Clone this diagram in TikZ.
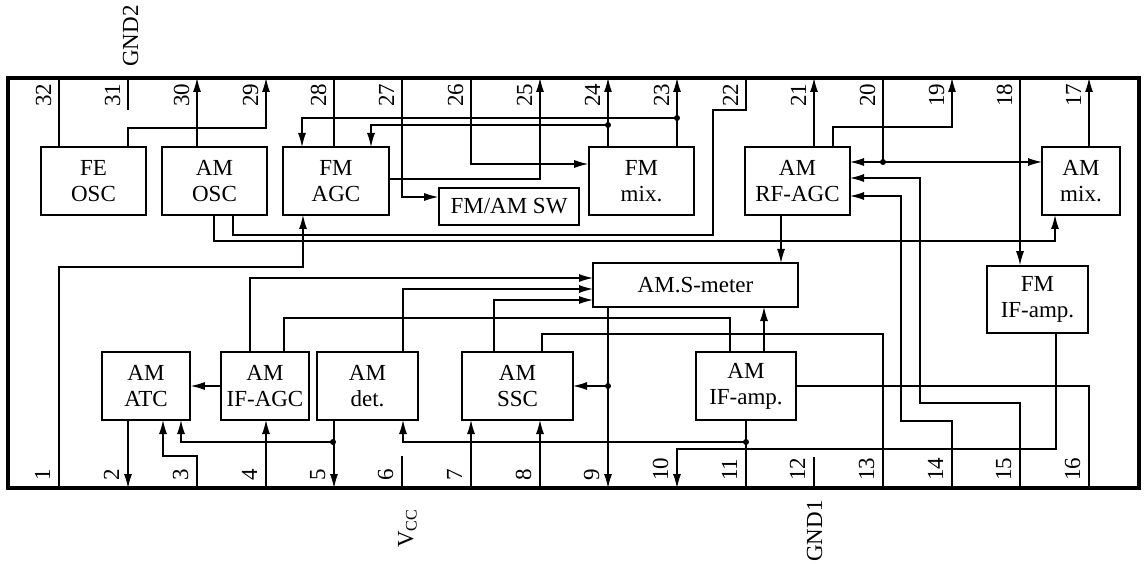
\documentclass[tikz,border=0pt]{standalone}
\usepackage{fontspec}
\setmainfont{Liberation Serif}
\usetikzlibrary{arrows.meta}
\begin{document}
\begin{tikzpicture}[x=1pt,y=-1pt,
  blk/.style={draw,line width=1.6pt,inner sep=0pt,align=center,font=\fontsize{23}{26}\selectfont},
  conn/.style={line width=1.1pt},
  arr/.style={conn,-{Latex[length=14pt,width=8pt]}},
  pinlab/.style={rotate=90,anchor=base west,inner sep=0pt,font=\fontsize{23}{26}\selectfont},
  jdot/.style={fill}]
\useasboundingbox (0,0) rectangle (1146,564);
% pins
\foreach \n/\x in {32/59,31/128,30/197,29/266,28/334,27/402,26/471,25/540,24/608,23/677,22/746,21/814,20/883,19/952,18/1020,17/1089}{
  \coordinate (t\n) at (\x,78);
  \node[pinlab] (lt\n) at (\x-8,107) {\n};
}
\foreach \n/\x in {1/59,2/128,3/197,4/266,5/334,6/402,7/471,8/540,9/608,10/677,11/746,12/814,13/883,14/952,15/1020,16/1089}{
  \coordinate (b\n) at (\x,488);
  \node[pinlab] (lb\n) at (\x-9,481) {\n};
}
% blocks
\node[blk,minimum width=105pt,minimum height=68pt] (fe) at (93.5,181) {FE\\OSC};
\node[blk,minimum width=105pt,minimum height=68pt] (amosc) at (214.5,181) {AM\\OSC};
\node[blk,minimum width=106pt,minimum height=68pt] (fmagc) at (336,181) {FM\\AGC};
\node[blk,minimum width=140pt,minimum height=37pt] (sw) at (509,206.5) {FM/AM SW};
\node[blk,minimum width=105pt,minimum height=68pt] (fmmix) at (641.5,181) {FM\\mix.};
\node[blk,minimum width=105pt,minimum height=68pt] (rfagc) at (797.5,181) {AM\\RF-AGC};
\node[blk,minimum width=78pt,minimum height=68pt] (ammix) at (1081,181) {AM\\mix.};
\node[blk,minimum width=205pt,minimum height=44pt] (smeter) at (695.5,285) {AM.S-meter};
\node[blk,minimum width=101pt,minimum height=67pt] (fmif) at (1037.5,299.5) {FM\\IF-amp.};
\node[blk,minimum width=88pt,minimum height=68pt] (atc) at (146,386) {AM\\ATC};
\node[blk,minimum width=88pt,minimum height=68pt] (ifagc) at (265,386) {AM\\IF-AGC};
\node[blk,minimum width=101pt,minimum height=68pt] (det) at (367.5,386) {AM\\det.};
\node[blk,minimum width=111pt,minimum height=68pt] (ssc) at (517.5,386) {AM\\SSC};
\node[blk,minimum width=100pt,minimum height=68pt] (amif) at (746,386) {AM\\IF-amp.};
% top connectors
\draw[conn] (t32) -- (fe.north -| t32);
\draw[conn] (t31) -- (128,110);
\draw[arr] (amosc.north -| t30) -- (t30);
\draw[arr] (fe.north -| t31) -- (128,128) -- (266,128) -- (t29);
\draw[conn] (t28) -- (fmagc.north -| t28);
\draw[arr] (fmmix.north -| t23) -- (t23);
\draw[arr] (fmmix.north -| t24) -- (t24);
\draw[arr] (677,118) -- (302,118) -- (302,147);
\draw[arr] (608,125) -- (371,125) -- (371,147);
\draw[arr] (389,179) -- (540,179) -- (t25);
\draw[arr] (t27) -- (402,197) -- (sw.west |- 0,197);
\draw[arr] (t26) -- (471,164) -- (fmmix.west |- 0,164);
\draw[conn] (233,215) -- (233,235) -- (713,235) -- (713,110) -- (746,110) -- (t22);
\draw[arr] (214,215) -- (214,241) -- (1055,241) -- (1055,215);
\draw[arr] (b1) -- (59,267) -- (303,267) -- (303,215);
% right top
\draw[arr] (rfagc.north -| t21) -- (t21);
\draw[arr] (833,147) -- (833,127) -- (952,127) -- (t19);
\draw[conn] (t20) -- (883,162);
\draw[arr] (883,162) -- (850,162);
\draw[arr] (883,162) -- (1042,162);
\draw[arr] (b15) -- (1020,403) -- (920,403) -- (920,178) -- (850,178);
\draw[arr] (b14) -- (952,421) -- (901,421) -- (901,196) -- (850,196);
\draw[arr] (t18) -- (fmif.north -| t18);
\draw[arr] (ammix.north -| t17) -- (t17);
\draw[arr] (781,215) -- (781,263);
% bottom
\draw[arr] (1056,333) -- (1056,449) -- (677,449) -- (b10);
\draw[conn] (796,386) -- (1089,386) -- (b16);
\draw[conn] (b13) -- (883,334) -- (542,334) -- (542,352);
\draw[conn] (284,352) -- (284,318) -- (730,318) -- (730,352);
\draw[arr] (250,352) -- (250,278) -- (593,278);
\draw[arr] (403,352) -- (403,289) -- (593,289);
\draw[arr] (494,352) -- (494,300) -- (593,300);
\draw[arr] (764,352) -- (764,307);
\draw[arr] (608,307) -- (b9);
\draw[arr] (608,386) -- (573,386);
\draw[arr] (ifagc.west) -- (atc.east);
\draw[arr] (atc.south -| b2) -- (b2);
\draw[arr] (b3) -- (197,456) -- (163,456) -- (163,420);
\draw[arr] (det.south -| b5) -- (b5);
\draw[arr] (333,442) -- (181,442) -- (181,420);
\draw[conn] (amif.south -| b11) -- (b11);
\draw[arr] (746,442) -- (403,442) -- (403,420);
\draw[arr] (b4) -- (266,420);
\draw[arr] (b7) -- (471,420);
\draw[arr] (b8) -- (540,420);
\draw[conn] (b6) -- (402,456);
\draw[conn] (b12) -- (814,457);
% dots
\foreach \p in {(677,118),(608,125),(883,162),(608,386),(333,442),(746,442)}
  \fill \p circle (3pt);
% outer border
\draw[line width=3.5pt] (8,78) rectangle (1139,488);
% external labels
\node[pinlab] (gnd2) at (138,67) {GND2};
\node[pinlab] (vcc) at (413,548) {V\textsubscript{CC}};
\node[pinlab] (gnd1) at (822,562) {GND1};
\end{tikzpicture}
\end{document}
